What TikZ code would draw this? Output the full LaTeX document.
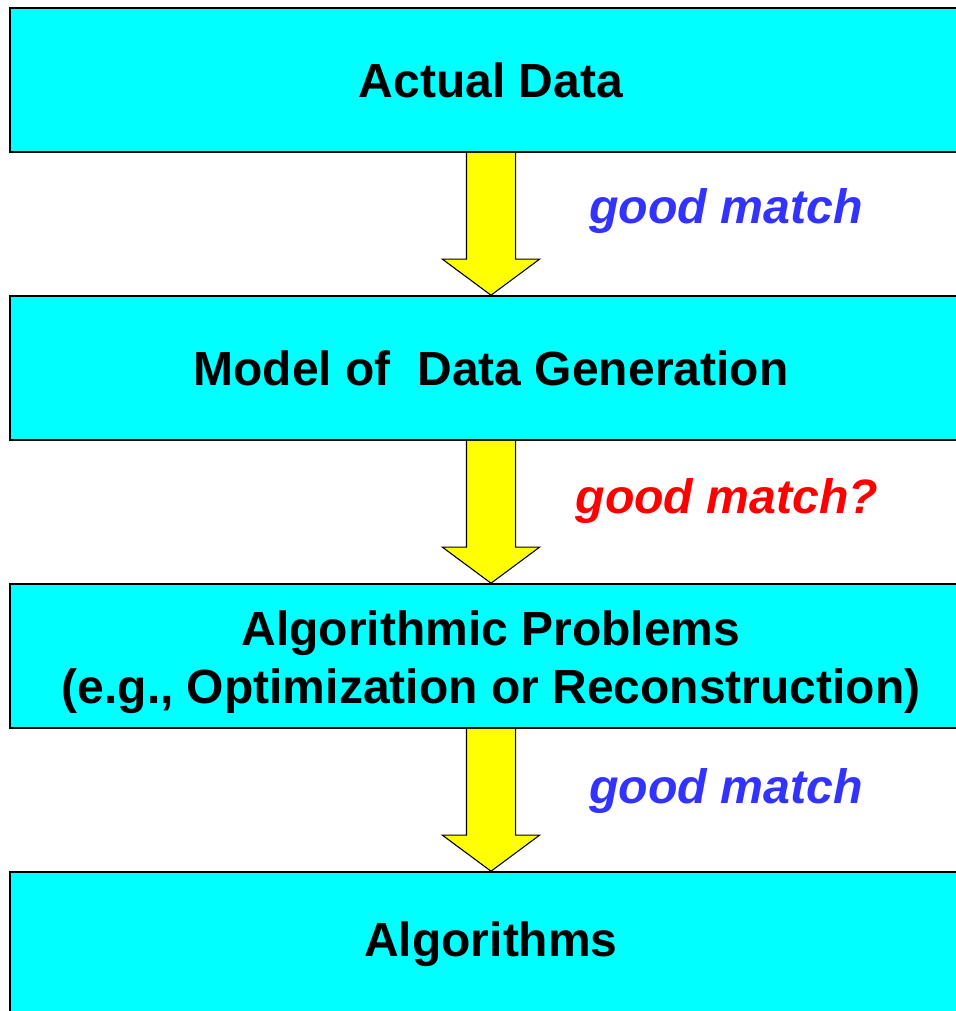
\documentclass[tikz,border=0pt]{standalone}
\usepackage{fontspec}
\setmainfont{Liberation Sans}
\usepackage{xcolor}
\usepackage{tikz}
\usetikzlibrary{positioning}
\definecolor{cian}{HTML}{00FFFF}
\definecolor{amarillo}{HTML}{FFFF00}
\definecolor{azulmatch}{HTML}{3333FF}
\definecolor{rojomatch}{HTML}{FF0000}

\begin{document}
\begin{tikzpicture}[
  x=0.75pt, y=-0.75pt,
  font=\fontsize{36}{43.5}\selectfont\bfseries,
  caja/.style={draw=black, line width=1.2pt, fill=cian, align=center,
    minimum width=721.5pt, minimum height=108pt, inner sep=0pt},
  flechota/.style={draw=black, line width=0.8pt, fill=amarillo, line join=miter},
  nota/.style={font=\fontsize{36.2}{42}\selectfont\bfseries\itshape, anchor=center}
]
  \clip (0,0) rectangle (956,1011);
  \useasboundingbox (0,0) rectangle (956,1011);
  \fill[white] (0,0) rectangle (956,1011);

  \node[caja] (b1) at (491,80) {Actual Data};
  \node[caja] (b2) at (491,368) {Model of\ \ Data Generation};
  \node[caja] (b3) at (491,656) {\rule{0pt}{36pt}Algorithmic Problems\\(e.g., Optimization or Reconstruction)};
  \node[caja] (b4) at (491,944) {Algorithms};

  % fat arrows between the boxes
  \draw[flechota] ([xshift=-18.4pt]b1.south) -- ([xshift=-18.4pt,yshift=27pt]b2.north)
    -- ([xshift=-36.4pt,yshift=27pt]b2.north) -- (b2.north)
    -- ([xshift=36.4pt,yshift=27pt]b2.north) -- ([xshift=18.4pt,yshift=27pt]b2.north)
    -- ([xshift=18.4pt]b1.south);
  \draw[flechota] ([xshift=-18.4pt]b2.south) -- ([xshift=-18.4pt,yshift=27pt]b3.north)
    -- ([xshift=-36.4pt,yshift=27pt]b3.north) -- (b3.north)
    -- ([xshift=36.4pt,yshift=27pt]b3.north) -- ([xshift=18.4pt,yshift=27pt]b3.north)
    -- ([xshift=18.4pt]b2.south);
  \draw[flechota] ([xshift=-18.4pt]b3.south) -- ([xshift=-18.4pt,yshift=27pt]b4.north)
    -- ([xshift=-36.4pt,yshift=27pt]b4.north) -- (b4.north)
    -- ([xshift=36.4pt,yshift=27pt]b4.north) -- ([xshift=18.4pt,yshift=27pt]b4.north)
    -- ([xshift=18.4pt]b3.south);

  \node[nota, text=azulmatch] (m1) at (726,211) {good match};
  \node[nota, text=rojomatch] (m2) at (727,501) {good match?};
  \node[nota, text=azulmatch] (m3) at (726,791) {good match};
\end{tikzpicture}
\end{document}
